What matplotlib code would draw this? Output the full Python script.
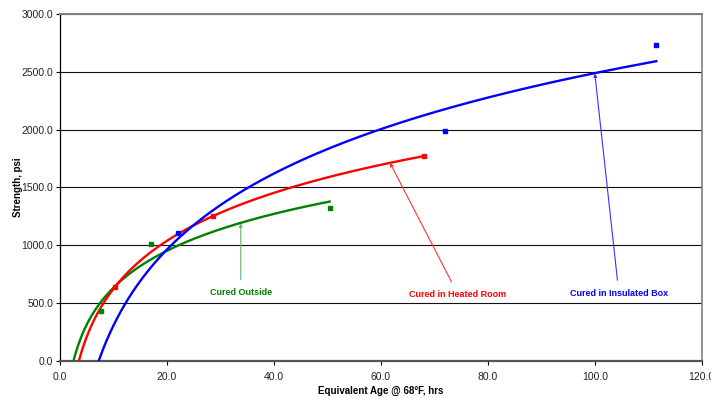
import matplotlib

matplotlib.use("Agg")
import matplotlib.pyplot as plt  # noqa: E402
import numpy as np  # noqa: E402

plt.rcParams["font.family"] = ["Liberation Sans", "DejaVu Sans"]

# measured points (equivalent age hrs, strength psi)
outside_age = [7.6, 17.0, 50.4]
outside_str = [430, 1008, 1321]
heated_age = [10.3, 28.6, 68.0]
heated_str = [640, 1252, 1770]
insul_age = [22.0, 72.0, 111.5]
insul_str = [1104, 1986, 2731]

series = [
    ("Cured Outside", outside_age, outside_str, "#008000", "#66b366", (33.8, 592), (33.8, 1190)),
    ("Cured in Heated Room", heated_age, heated_str, "#ff0000", "#ff3333", (74.4, 576), (61.7, 1712)),
    ("Cured in Insulated Box", insul_age, insul_str, "#0000ff", "#3333ff", (104.5, 585), (100.0, 2486)),
]

fig = plt.figure(figsize=(7.11, 3.98), dpi=100)
ax = fig.add_axes([0.0844, 0.0937, 0.9026, 0.8711])

for name, xs, ys, col, acol, txt_xy, tip_xy in series:
    # log trendline, as in the spreadsheet
    a, b = np.polyfit(np.log(xs), ys, 1)
    x0 = np.exp(-b / a)
    xx = np.linspace(x0, xs[-1], 300)
    ax.plot(xx, a * np.log(xx) + b, color=col, lw=1.7, zorder=3)
    ax.plot(xs, ys, "s", color=col, ms=3.5, zorder=4)
    ax.annotate(name, xy=tip_xy, xytext=txt_xy, ha="center", va="center",
                fontsize=6.5, fontweight="bold", color=col,
                arrowprops=dict(arrowstyle="-|>", color=acol, lw=0.8,
                                mutation_scale=5, shrinkA=4, shrinkB=0))

ax.set_xlim(0, 120)
ax.set_ylim(0, 3000)
ax.set_xticks(np.arange(0, 121, 20))
ax.set_yticks(np.arange(0, 3001, 500))
ax.set_xticklabels([f"{v:.1f}" for v in np.arange(0, 121, 20)])
ax.set_yticklabels([f"{v:.1f}" for v in np.arange(0, 3001, 500)])
ax.tick_params(labelsize=7.5, labelcolor="#222222", length=3, width=0.8)
ax.tick_params(axis="x", pad=5)
ax.tick_params(axis="y", pad=2)
ax.yaxis.grid(True, color="#111111", lw=0.8)
ax.set_axisbelow(True)

ax.spines["left"].set_color("black")
ax.spines["left"].set_linewidth(0.9)
ax.spines["bottom"].set_color("#555555")
ax.spines["bottom"].set_linewidth(1.6)
ax.spines["top"].set_color("#808080")
ax.spines["top"].set_linewidth(1.4)
ax.spines["right"].set_color("#808080")
ax.spines["right"].set_linewidth(1.2)

ax.set_xlabel("Equivalent Age @ 68°F, hrs", fontsize=7, fontweight="bold", va="center")
ax.set_ylabel("Strength, psi", fontsize=7, fontweight="bold", va="center")
ax.xaxis.set_label_coords(0.5, -0.087)
ax.yaxis.set_label_coords(-0.066, 0.5)

fig.savefig("out.png", dpi=100)
plt.close(fig)
